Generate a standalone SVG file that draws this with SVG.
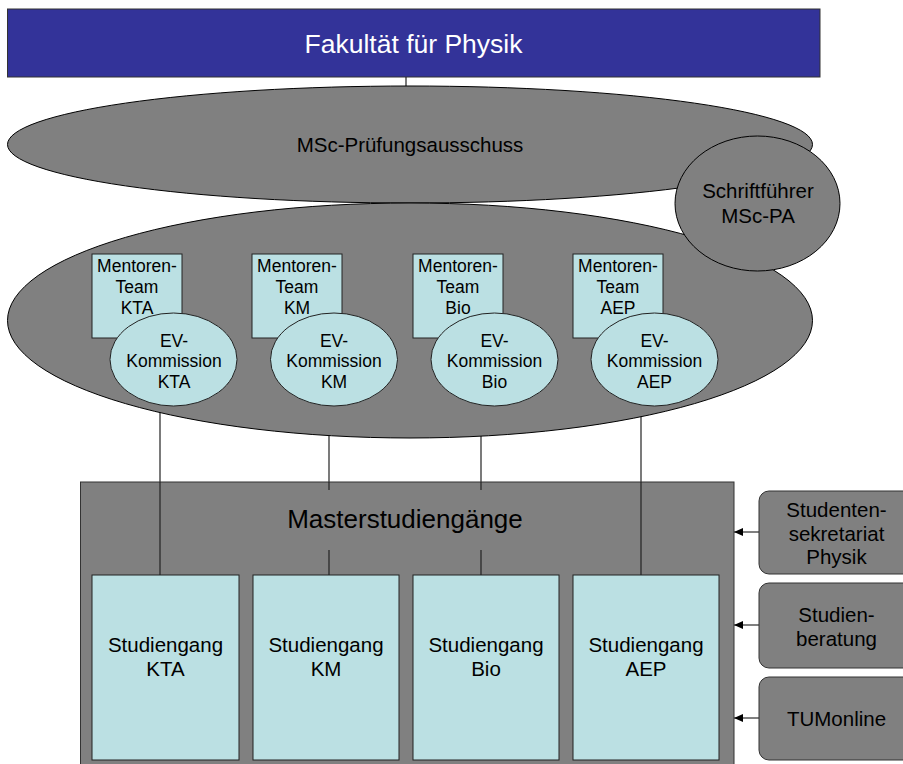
<svg xmlns="http://www.w3.org/2000/svg" width="903" height="764" viewBox="0 0 903 764">
<style>
text{font-family:"Liberation Sans",Arial,sans-serif;fill:#000;text-anchor:middle}
.g{fill:#808080;stroke:#000;stroke-width:1}
.c{fill:#BBE0E3;stroke:#222;stroke-width:1}
.ln{stroke:#222;stroke-width:1.2;fill:none}
.s17{font-size:17.5px}
.s20{font-size:20.5px}
</style>
<defs>
<marker id="ah" markerWidth="9" markerHeight="8" refX="9" refY="4" orient="auto" markerUnits="userSpaceOnUse">
<path d="M0,0 L9,4 L0,8 Z" fill="#000"/>
</marker>
</defs>
<g id="fakultaet">
<rect x="7.5" y="9" width="812.5" height="68" fill="#333399" stroke="#333" stroke-width="1"/>
<text x="413.5" y="53" style="font-size:26.5px;fill:#fff">Fakultät für Physik</text>
</g>
<g id="connectors">
<line class="ln" x1="406" y1="77" x2="406" y2="86"/>
<line class="ln" x1="160" y1="400" x2="160" y2="575"/>
<line class="ln" x1="329" y1="400" x2="329" y2="490"/>
<line class="ln" x1="329" y1="550" x2="329" y2="575"/>
<line class="ln" x1="481" y1="400" x2="481" y2="490"/>
<line class="ln" x1="481" y1="550" x2="481" y2="575"/>
<line class="ln" x1="641" y1="400" x2="641" y2="575"/>
<line x1="759" y1="532" x2="734" y2="532" stroke="#000" stroke-width="1" marker-end="url(#ah)"/>
<line x1="759" y1="625" x2="734" y2="625" stroke="#000" stroke-width="1" marker-end="url(#ah)"/>
<line x1="759" y1="718" x2="734" y2="718" stroke="#000" stroke-width="1" marker-end="url(#ah)"/>
</g>
<g id="pruefungsausschuss">
<ellipse class="g" cx="410" cy="144.5" rx="402.5" ry="58.5"/>
<text class="s20" x="410" y="152">MSc-Prüfungsausschuss</text>
</g>
<g id="kommissionen">
<ellipse class="g" cx="410" cy="320.5" rx="402.5" ry="117.5"/>
</g>
<g id="schriftfuehrer">
<ellipse class="g" cx="757.5" cy="203.5" rx="82.5" ry="67.5"/>
<text class="s20" x="758" y="198">Schriftführer</text>
<text class="s20" x="758" y="223">MSc-PA</text>
</g>
<g id="mentoren-kta">
<rect class="c" x="92" y="254" width="90" height="84"/>
<text class="s17" x="137" y="272">Mentoren-</text>
<text class="s17" x="137" y="293">Team</text>
<text class="s17" x="137" y="314">KTA</text>
</g>
<g id="mentoren-km">
<rect class="c" x="252" y="254" width="90" height="84"/>
<text class="s17" x="297" y="272">Mentoren-</text>
<text class="s17" x="297" y="293">Team</text>
<text class="s17" x="297" y="314">KM</text>
</g>
<g id="mentoren-bio">
<rect class="c" x="413" y="254" width="90" height="84"/>
<text class="s17" x="458" y="272">Mentoren-</text>
<text class="s17" x="458" y="293">Team</text>
<text class="s17" x="458" y="314">Bio</text>
</g>
<g id="mentoren-aep">
<rect class="c" x="573" y="254" width="90" height="84"/>
<text class="s17" x="618" y="272">Mentoren-</text>
<text class="s17" x="618" y="293">Team</text>
<text class="s17" x="618" y="314">AEP</text>
</g>
<g id="ev-kta">
<ellipse class="c" cx="173.5" cy="359.5" rx="63.5" ry="46.5"/>
<text class="s17" x="174" y="347">EV-</text>
<text class="s17" x="174" y="367">Kommission</text>
<text class="s17" x="174" y="388">KTA</text>
</g>
<g id="ev-km">
<ellipse class="c" cx="334" cy="359.5" rx="63.5" ry="46.5"/>
<text class="s17" x="334" y="347">EV-</text>
<text class="s17" x="334" y="367">Kommission</text>
<text class="s17" x="334" y="388">KM</text>
</g>
<g id="ev-bio">
<ellipse class="c" cx="494.5" cy="359.5" rx="63.5" ry="46.5"/>
<text class="s17" x="494.5" y="347">EV-</text>
<text class="s17" x="494.5" y="367">Kommission</text>
<text class="s17" x="494.5" y="388">Bio</text>
</g>
<g id="ev-aep">
<ellipse class="c" cx="654.5" cy="359.5" rx="63.5" ry="46.5"/>
<text class="s17" x="654.5" y="347">EV-</text>
<text class="s17" x="654.5" y="367">Kommission</text>
<text class="s17" x="654.5" y="388">AEP</text>
</g>
<g id="masterstudiengaenge">
<rect class="g" x="80.5" y="482" width="653.5" height="300" style="stroke:#333"/>
<text x="405" y="528" style="font-size:26px">Masterstudiengänge</text>
</g>
<g id="connectors-inner">
<line class="ln" x1="160" y1="482" x2="160" y2="575"/>
<line class="ln" x1="329" y1="482" x2="329" y2="490"/>
<line class="ln" x1="329" y1="550" x2="329" y2="575"/>
<line class="ln" x1="481" y1="482" x2="481" y2="490"/>
<line class="ln" x1="481" y1="550" x2="481" y2="575"/>
<line class="ln" x1="641" y1="482" x2="641" y2="575"/>
</g>
<g id="studiengang-kta">
<rect class="c" x="92" y="575" width="147" height="185"/>
<text class="s20" x="165.5" y="652">Studiengang</text>
<text class="s20" x="165.5" y="676">KTA</text>
</g>
<g id="studiengang-km">
<rect class="c" x="253" y="575" width="146" height="185"/>
<text class="s20" x="326" y="652">Studiengang</text>
<text class="s20" x="326" y="676">KM</text>
</g>
<g id="studiengang-bio">
<rect class="c" x="413" y="575" width="146" height="185"/>
<text class="s20" x="486" y="652">Studiengang</text>
<text class="s20" x="486" y="676">Bio</text>
</g>
<g id="studiengang-aep">
<rect class="c" x="573" y="575" width="146" height="185"/>
<text class="s20" x="646" y="652">Studiengang</text>
<text class="s20" x="646" y="676">AEP</text>
</g>
<g id="studentensekretariat">
<rect class="g" x="759" y="491" width="155" height="83" rx="10" style="stroke:#333"/>
<text class="s20" x="836.5" y="517">Studenten-</text>
<text class="s20" x="836.5" y="541">sekretariat</text>
<text class="s20" x="836.5" y="564">Physik</text>
</g>
<g id="studienberatung">
<rect class="g" x="759" y="583" width="155" height="85" rx="10" style="stroke:#333"/>
<text class="s20" x="836.5" y="622">Studien-</text>
<text class="s20" x="836.5" y="646">beratung</text>
</g>
<g id="tumonline">
<rect class="g" x="759" y="677" width="155" height="83" rx="10" style="stroke:#333"/>
<text class="s20" x="836.5" y="726">TUMonline</text>
</g>
</svg>
